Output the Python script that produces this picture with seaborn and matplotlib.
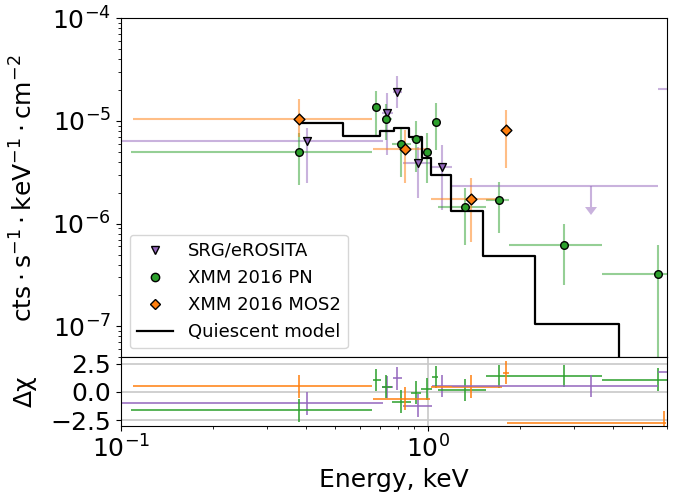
import numpy as np
import pandas as pd
import matplotlib
matplotlib.use("Agg")
import matplotlib.pyplot as plt
import seaborn as sns
from matplotlib.lines import Line2D

# ---------------- data ----------------
# XMM 2016 PN
pn_E   = [0.382, 0.679, 0.731, 0.818, 0.918, 0.997, 1.064, 1.323, 1.707, 2.773, 5.61]
pn_Elo = [0.108, 0.661, 0.708, 0.762, 0.885, 0.952, 1.035, 1.083, 1.547, 1.836, 3.70]
pn_Ehi = [0.657, 0.703, 0.762, 0.885, 0.952, 1.035, 1.083, 1.547, 1.836, 3.70, 6.5]
pn_F   = [5.02e-6, 1.37e-5, 1.04e-5, 5.97e-6, 6.64e-6, 5.02e-6, 9.71e-6, 1.46e-6, 1.70e-6, 6.2e-7, 3.24e-7]
pn_Flo = [2.38e-6, 7.31e-6, 6.5e-6, 2.87e-6, 3.21e-6, 2.47e-6, 5.22e-6, 6.2e-7, 8.06e-7, 2.53e-7, 1e-9]
pn_Fhi = [7.7e-6, 1.97e-5, 1.46e-5, 8.8e-6, 1.0e-5, 7.59e-6, 1.49e-5, 2.21e-6, 2.56e-6, 9.87e-7, 6.2e-7]
pn_res = [-1.64, 1.03, 0.44, -0.88, -0.09, 0.24, 1.32, 0.15, 1.36, 1.41, 1.06]

# XMM 2016 MOS2
mos_E   = [0.382, 0.841, 1.380, 1.80, 5.89]
mos_Elo = [0.110, 0.661, 1.026, 1.76, 1.81]
mos_Ehi = [0.657, 1.02, 1.74, 1.84, 5.95]
mos_F   = [1.046e-5, 5.30e-6, 1.75e-6, 8.19e-6, 2e-8]
mos_Flo = [7.03e-6, 2.47e-6, 6.68e-7, 3.46e-6, 1e-8]
mos_Fhi = [1.64e-5, 8.17e-6, 2.77e-6, 1.28e-5, 3e-8]
mos_res = [0.47, -0.60, 0.44, 1.68, -2.73]

# SRG/eROSITA
ero_E   = [0.405, 0.739, 0.796, 0.932, 1.116]
ero_Elo = [0.09, 0.71, 0.772, 0.833, 1.03]
ero_Ehi = [0.713, 0.77, 0.827, 1.03, 1.197]
ero_F   = [6.34e-6, 1.20e-5, 1.93e-5, 3.87e-6, 3.59e-6]
ero_Flo = [2.51e-6, 4.67e-6, 1.33e-5, 1.77e-6, 1.36e-6]
ero_Fhi = [8.49e-6, 1.86e-5, 2.74e-5, 5.62e-6, 5.84e-6]
ero_res = [-1.02, 0.41, 1.18, -1.24, 0.52]

# SRG/eROSITA bin beyond the right edge
ero2_E, ero2_Elo, ero2_Ehi, ero2_F, ero2_res = 7.5, 5.64, 9.0, 2.05e-5, 1.76

# SRG/eROSITA upper limit
ul_E, ul_Elo, ul_Ehi = 3.40, 1.197, 5.64
ul_F, ul_Farrow = 2.33e-6, 1.46e-6
ul_res = 0.50

# Quiescent model (bin edges / levels)
model_edges = [0.386, 0.531, 0.699, 0.777, 0.871, 0.958, 1.027, 1.191, 1.511, 2.241, 4.20, 8.0]
model_flux  = [9.62e-6, 7.22e-6, 8.04e-6, 8.64e-6, 6.91e-6, 4.41e-6, 2.97e-6, 1.34e-6, 4.85e-7, 1.05e-7, 1e-9]

C_ERO, C_PN, C_MOS = "tab:purple", "tab:green", "tab:orange"

# ---------------- figure ----------------
fig = plt.figure(figsize=(6.84, 4.92), dpi=100)
L, W = 0.1765, 0.7982
ax = fig.add_axes([L, 0.2738, W, 0.6890])
axr = fig.add_axes([L, 0.1348, W, 0.1390], sharex=ax)

ax.set_xscale("log")
ax.set_yscale("log")


def xerr_of(E, lo, hi):
    E, lo, hi = np.atleast_1d(E), np.atleast_1d(lo), np.atleast_1d(hi)
    return np.vstack([E - lo, hi - E])


def yerr_of(F, lo, hi):
    F, lo, hi = np.atleast_1d(F), np.atleast_1d(lo), np.atleast_1d(hi)
    return np.vstack([F - lo, hi - F])


sets = [
    (ero_E, ero_Elo, ero_Ehi, ero_F, ero_Flo, ero_Fhi, ero_res, C_ERO),
    (pn_E, pn_Elo, pn_Ehi, pn_F, pn_Flo, pn_Fhi, pn_res, C_PN),
    (mos_E, mos_Elo, mos_Ehi, mos_F, mos_Flo, mos_Fhi, mos_res, C_MOS),
]
for E, Elo, Ehi, F, Flo, Fhi, res, c in sets:
    ax.errorbar(E, F, xerr=xerr_of(E, Elo, Ehi), yerr=yerr_of(F, Flo, Fhi),
                fmt="none", ecolor=c, alpha=0.5, elinewidth=1.5, zorder=1)
    axr.errorbar(E, res, xerr=xerr_of(E, Elo, Ehi), yerr=np.ones(len(E)),
                 fmt="none", ecolor=c, alpha=0.85, elinewidth=1.3, zorder=2)

# eROSITA bin beyond the right edge
ax.errorbar([ero2_E], [ero2_F], xerr=xerr_of(ero2_E, ero2_Elo, ero2_Ehi),
            fmt="none", ecolor=C_ERO, alpha=0.5, elinewidth=1.5, zorder=1)
axr.errorbar([ero2_E], [ero2_res], xerr=xerr_of(ero2_E, ero2_Elo, ero2_Ehi), yerr=[1.0],
             fmt="none", ecolor=C_ERO, alpha=0.85, elinewidth=1.3, zorder=2)

# upper limit: horizontal bin extent + downward arrow
ax.errorbar([ul_E], [ul_F], xerr=xerr_of(ul_E, ul_Elo, ul_Ehi), fmt="none",
            ecolor=C_ERO, alpha=0.5, elinewidth=1.5, zorder=1)
ax.errorbar([ul_E], [ul_F], yerr=[[ul_F - ul_Farrow], [ul_F - ul_Farrow]], uplims=True,
            fmt="none", ecolor=C_ERO, color=C_ERO, alpha=0.5, elinewidth=1.5,
            capsize=4, capthick=0, zorder=1)
axr.errorbar([ul_E], [ul_res], xerr=xerr_of(ul_E, ul_Elo, ul_Ehi), yerr=[1.0],
             fmt="none", ecolor=C_ERO, alpha=0.85, elinewidth=1.3, zorder=2)

# model
sns.lineplot(x=model_edges, y=model_flux + [model_flux[-1]], drawstyle="steps-post",
             color="black", lw=1.6, estimator=None, sort=False, ax=ax, zorder=2)

# markers
sns.scatterplot(x=ero_E, y=ero_F, marker="v", color=C_ERO, edgecolor="black",
                linewidth=1, s=32, zorder=3, ax=ax)
sns.scatterplot(x=pn_E, y=pn_F, marker="o", color=C_PN, edgecolor="black",
                linewidth=1, s=30, zorder=3, ax=ax)
sns.scatterplot(x=mos_E, y=mos_F, marker="D", color=C_MOS, edgecolor="black",
                linewidth=1, s=30, zorder=3, ax=ax)

ax.set_xlim(0.1, 6.0)
ax.set_ylim(5e-8, 1e-4)
axr.set_ylim(-3.0, 3.05)
axr.set_yticks([-2.5, 0.0, 2.5])

ax.tick_params(axis="x", labelbottom=False)
ax.tick_params(labelsize=18)
axr.tick_params(labelsize=18)

axr.grid(True, which="major", color="#c8c8c8", lw=1.2)
axr.set_axisbelow(True)

ax.set_ylabel(r"$\mathrm{cts} \cdot \mathrm{s}^{-1} \cdot \mathrm{keV}^{-1} \cdot \mathrm{cm}^{-2}$",
              fontsize=18)
axr.set_ylabel("Δχ", fontsize=18)
axr.set_xlabel("Energy, keV", fontsize=18)
ax.yaxis.set_label_coords(-0.153, 0.5)
axr.yaxis.set_label_coords(-0.153, 0.5)

handles = [
    Line2D([], [], ls="none", marker="v", markerfacecolor=C_ERO, markeredgecolor="black", markersize=6),
    Line2D([], [], ls="none", marker="o", markerfacecolor=C_PN, markeredgecolor="black", markersize=6),
    Line2D([], [], ls="none", marker="D", markerfacecolor=C_MOS, markeredgecolor="black", markersize=5.5),
    Line2D([], [], color="black", lw=1.6),
]
labels = ["SRG/eROSITA", "XMM 2016 PN", "XMM 2016 MOS2", "Quiescent model"]
leg = ax.get_legend()
if leg is not None:
    leg.remove()
ax.legend(handles, labels, loc="lower left", fontsize=13)

fig.savefig("out.png", dpi=100)
